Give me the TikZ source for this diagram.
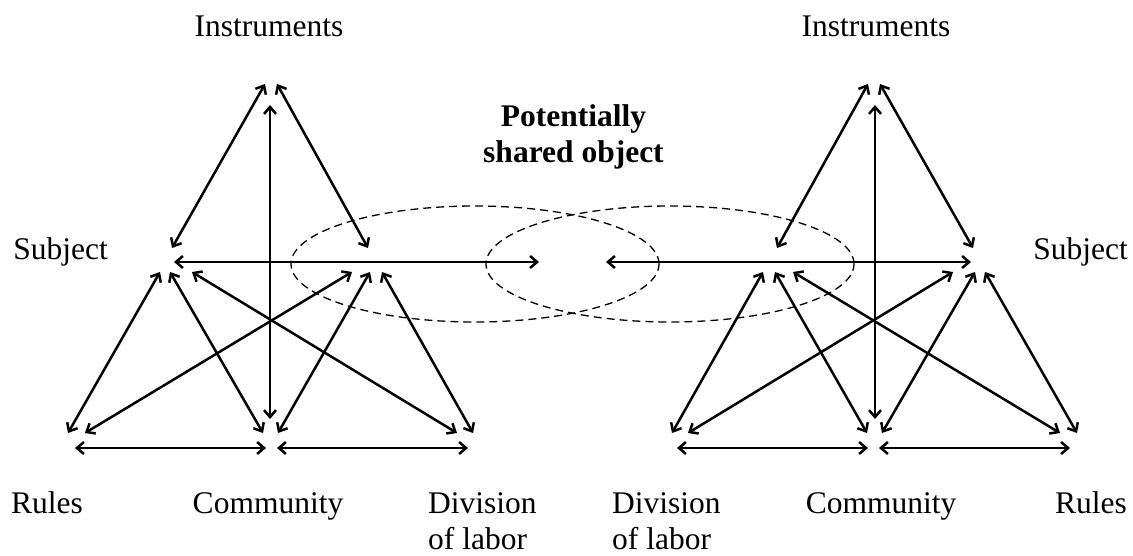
\documentclass[tikz,border=0pt]{standalone}
\usepackage{fontspec}
\setmainfont{Liberation Serif}
\usetikzlibrary{arrows.meta,shapes.geometric}

\tikzset{
  lbl/.style={inner sep=0pt, font=\fontsize{31.5}{36}\selectfont},
  barbtip/.tip={Straight Barb[length=7pt,width=12pt,line width=2.5pt]},
  conn/.style={line width=2.5pt, line cap=round, barbtip-barbtip},
  objellipse/.style={ellipse, draw, dash pattern=on 8pt off 5pt, line width=1.3pt,
    minimum width=368pt, minimum height=116pt, inner sep=0pt},
  % one activity system: apex, subject, object and the three bottom corners
  activity/.pic={
    % apex (instruments)
    \coordinate (-aS) at (265,84);
    \coordinate (-aO) at (277,84);
    \coordinate (-aC) at (270,105);
    % subject corner
    \coordinate (-sA) at (172,248);
    \coordinate (-sX) at (174,262);
    \coordinate (-sR) at (160,272);
    \coordinate (-sC) at (170,272);
    \coordinate (-sD) at (192,272);
    % object corner
    \coordinate (-oA) at (368,248);
    \coordinate (-oR) at (352,272);
    \coordinate (-oC) at (370,272);
    \coordinate (-oD) at (382,272);
    % shared object end
    \coordinate (-x) at (539,262);
    % rules corner
    \coordinate (-rS) at (68,433);
    \coordinate (-rO) at (85,433);
    \coordinate (-rC) at (75,448);
    % community corner
    \coordinate (-cS) at (263,433);
    \coordinate (-cA) at (270,419);
    \coordinate (-cO) at (278,433);
    \coordinate (-cR) at (266,448);
    \coordinate (-cD) at (277,448);
    % division of labor corner
    \coordinate (-dS) at (457,433);
    \coordinate (-dO) at (473,433);
    \coordinate (-dC) at (468,448);
    % connectors
    \draw[conn] (-aS) -- (-sA);
    \draw[conn] (-aO) -- (-oA);
    \draw[conn] (-aC) -- (-cA);
    \draw[conn] (-sX) -- (-x);
    \draw[conn] (-sR) -- (-rS);
    \draw[conn] (-sC) -- (-cS);
    \draw[conn] (-sD) -- (-dS);
    \draw[conn] (-oR) -- (-rO);
    \draw[conn] (-oC) -- (-cO);
    \draw[conn] (-oD) -- (-dO);
    \draw[conn] (-rC) -- (-cR);
    \draw[conn] (-cD) -- (-dC);
  }
}

\begin{document}
\begin{tikzpicture}[x=1pt,y=-1pt]
  \useasboundingbox (0,0) rectangle (1133,556);

  % the two overlapping object ellipses
  \node[objellipse] (objL) at (475,264) {};
  \node[objellipse] (objR) at (670,264) {};

  % the two activity triangles, the second one mirrored
  \pic (L) at (0,0) {activity};
  \pic[xscale=-1] (R) at (1145,0) {activity};

  % labels (multi-line nodes are placed by the baseline of their last line)
  \node[lbl, anchor=base] (instL) at (269,37) {Instruments};
  \node[lbl, anchor=base] (instR) at (876,37) {Instruments};
  \node[lbl, anchor=base, align=center, font=\fontsize{31.5}{36}\selectfont\bfseries]
    (shared) at (573.5,163) {Potentially\\shared object};
  \node[lbl, anchor=base] (subjL) at (60.5,260) {Subject};
  \node[lbl, anchor=base] (subjR) at (1080.5,260) {Subject};

  \node[lbl, anchor=base] (rulesL) at (47,513) {Rules};
  \node[lbl, anchor=base] (commL) at (268,513) {Community};
  \node[lbl, anchor=base west, align=left] (divL) at (428,549) {Division\\of labor};
  \node[lbl, anchor=base west, align=left] (divR) at (612,549) {Division\\of labor};
  \node[lbl, anchor=base] (commR) at (881,513) {Community};
  \node[lbl, anchor=base] (rulesR) at (1091,513) {Rules};
\end{tikzpicture}
\end{document}
